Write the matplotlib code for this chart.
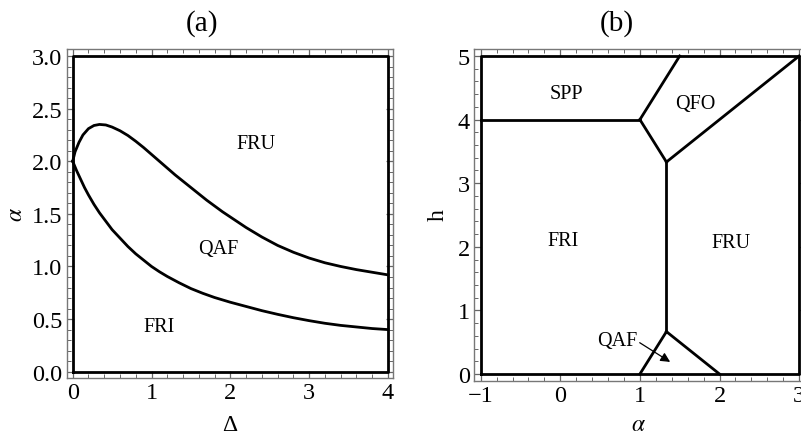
import matplotlib
matplotlib.use('Agg')
import matplotlib.pyplot as plt
from matplotlib.ticker import MultipleLocator

plt.rcParams['font.family'] = ['Liberation Serif', 'DejaVu Serif']
plt.rcParams['mathtext.fontset'] = 'stix'

# panel (a): boundaries
delta_upper = [0, 0.03, 0.08, 0.13, 0.2, 0.27, 0.34, 0.42, 0.5, 0.6, 0.7, 0.8, 0.9, 1.0, 1.1, 1.2,
               1.3, 1.4, 1.5, 1.6, 1.7, 1.8, 1.9, 2.0, 2.2, 2.4, 2.6, 2.8, 3.0, 3.2, 3.4, 3.6, 3.8, 4.0]
alpha_upper = [2.0, 2.09, 2.18, 2.25, 2.31, 2.34, 2.35, 2.345, 2.325, 2.29, 2.245, 2.19, 2.13, 2.065,
               2.0, 1.935, 1.87, 1.81, 1.75, 1.69, 1.63, 1.575, 1.52, 1.47, 1.37, 1.28, 1.2, 1.135,
               1.08, 1.035, 1.0, 0.97, 0.945, 0.92]
delta_lower = [0, 0.05, 0.1, 0.15, 0.2, 0.27, 0.34, 0.42, 0.5, 0.6, 0.7, 0.8, 0.9, 1.0, 1.1, 1.2,
               1.35, 1.5, 1.65, 1.8, 2.0, 2.2, 2.4, 2.6, 2.8, 3.0, 3.2, 3.4, 3.6, 3.8, 4.0]
alpha_lower = [2.0, 1.91, 1.83, 1.75, 1.68, 1.59, 1.51, 1.43, 1.35, 1.27, 1.19, 1.12, 1.06, 1.0,
               0.95, 0.905, 0.845, 0.79, 0.745, 0.705, 0.66, 0.62, 0.58, 0.545, 0.513, 0.485,
               0.46, 0.44, 0.425, 0.41, 0.40]
labels_a = ['FRU', 'QAF', 'FRI']
labels_a_pos = [(2.32, 2.17), (1.85, 1.17), (1.1, 0.43)]

# panel (b): phase boundary segments (alpha, h)
segments_b = [
    [(-1, 4), (1, 4)],
    [(1, 4), (1.5, 5)],
    [(1, 4), (4/3, 10/3)],
    [(4/3, 10/3), (3, 5)],
    [(4/3, 10/3), (4/3, 2/3)],
    [(4/3, 2/3), (1, 0)],
    [(4/3, 2/3), (2, 0)],
]
labels_b = ['SPP', 'QFO', 'FRI', 'FRU']
labels_b_pos = [(0.08, 4.41), (1.69, 4.25), (0.03, 2.1), (2.15, 2.07)]
qaf_text = (0.71, 0.52)
qaf_arrow_end = (1.38, 0.19)

W, H = 801, 435
fig = plt.figure(figsize=(W/100, H/100), dpi=100)

def px_axes(l, r, t, b):
    return fig.add_axes([l/W, 1 - b/H, (r - l)/W, (b - t)/H])

def style(ax):
    for s in ax.spines.values():
        s.set_color('#777777')
        s.set_linewidth(1.0)
    ax.tick_params(which='both', direction='in', top=True, right=True,
                   color='#666666', labelsize=17.5, labelcolor='black', pad=3)
    ax.tick_params(which='major', length=5, width=0.9)
    ax.tick_params(which='minor', length=3, width=0.7)

lw = 2.0

ax1 = px_axes(66.7, 393, 50, 379)
ax1.set_xlim(-0.076, 4.063)
ax1.set_ylim(-0.06, 3.067)
ax1.plot(delta_upper, alpha_upper, color='black', lw=lw)
ax1.plot(delta_lower, alpha_lower, color='black', lw=lw)
ax1.plot([0, 4, 4, 0, 0], [0, 0, 3, 3, 0], color='black', lw=lw)
ax1.xaxis.set_major_locator(MultipleLocator(1))
ax1.xaxis.set_minor_locator(MultipleLocator(0.2))
ax1.yaxis.set_minor_locator(MultipleLocator(0.1))
ax1.set_yticks([0, 0.5, 1.0, 1.5, 2.0, 2.5, 3.0])
ax1.set_yticklabels(['0.0', '0.5', '1.0', '1.5', '2.0', '2.5', '3.0'])
style(ax1)
for lab, (x, y) in zip(labels_a, labels_a_pos):
    ax1.text(x, y, lab, fontsize=14.5, ha='center', va='center')

ax2 = px_axes(474, 805.8, 50, 381.7)
ax2.set_xlim(-1.084, 3.084)
ax2.set_ylim(-0.105, 5.11)
for seg in segments_b:
    ax2.plot([seg[0][0], seg[1][0]], [seg[0][1], seg[1][1]], color='black', lw=lw)
ax2.plot([-1, 3, 3, -1, -1], [0, 0, 5, 5, 0], color='black', lw=lw)
ax2.xaxis.set_minor_locator(MultipleLocator(0.2))
ax2.yaxis.set_major_locator(MultipleLocator(1))
ax2.yaxis.set_minor_locator(MultipleLocator(0.2))
ax2.set_xticks([-1, 0, 1, 2, 3])
ax2.set_xticklabels(['\u22121', '0', '1', '2', '3'])
style(ax2)
for lab, (x, y) in zip(labels_b, labels_b_pos):
    ax2.text(x, y, lab, fontsize=14.5, ha='center', va='center')
ax2.annotate('QAF', xy=qaf_arrow_end, xytext=qaf_text, fontsize=14.5,
             ha='center', va='center',
             arrowprops=dict(arrowstyle='-|>', color='black', lw=0.9,
                             mutation_scale=14, shrinkA=0, shrinkB=0,
                             relpos=(1.0, 0.5)))

# axis labels and panel titles
fig.text(17/W, 1 - 215/H, r'$\alpha$', fontsize=17, ha='center', va='center', rotation=90)
fig.text(230/W, 1 - 426/H, '\u0394', fontsize=17, ha='center', va='center')
fig.text(438/W, 1 - 215/H, 'h', fontsize=17, ha='center', va='center', rotation=90)
fig.text(638/W, 1 - 426/H, r'$\alpha$', fontsize=17, ha='center', va='center')
fig.text(202/W, 1 - 24/H, '(a)', fontsize=21, ha='center', va='center')
fig.text(617/W, 1 - 24/H, '(b)', fontsize=21, ha='center', va='center')

fig.savefig('out.png', dpi=100)
